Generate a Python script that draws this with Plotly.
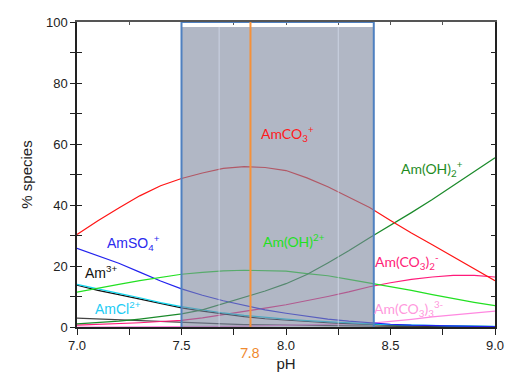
import plotly.graph_objects as go

ph = [7.0, 7.1, 7.2, 7.3, 7.4, 7.5, 7.6, 7.7, 7.8, 7.9, 8.0,
      8.1, 8.2, 8.3, 8.4, 8.5, 8.6, 8.7, 8.8, 8.9, 9.0]

amco3 = [30.3, 34.8, 39.0, 43.0, 46.3, 48.7, 50.5, 52.0, 52.6, 52.3, 51.3,
         48.9, 46.0, 42.5, 39.2, 34.9, 30.8, 27.0, 23.1, 19.0, 15.2]
amoh2_p = [1.0, 1.4, 1.9, 2.6, 3.4, 4.3, 5.6, 7.6, 9.6, 11.8, 14.2,
           17.2, 21.0, 25.0, 29.3, 33.3, 37.5, 41.8, 46.4, 51.0, 55.5]
amoh_2p = [11.4, 12.8, 14.0, 15.2, 16.3, 17.3, 17.9, 18.4, 18.6, 18.5, 18.3,
           17.5, 16.8, 15.6, 14.4, 13.3, 12.0, 10.6, 9.3, 8.1, 7.0]
amso4 = [25.8, 23.3, 20.9, 18.0, 15.1, 12.5, 10.4, 8.6, 7.0, 5.6, 4.5,
         3.5, 2.6, 1.9, 1.3, 0.9, 0.6, 0.4, 0.3, 0.2, 0.15]
amcl = [14.0, 12.4, 11.0, 9.6, 8.0, 6.7, 5.6, 4.6, 3.8, 3.1, 2.6,
        2.1, 1.7, 1.3, 1.0, 0.8, 0.6, 0.5, 0.4, 0.3, 0.25]
am3 = [13.7, 12.0, 10.6, 9.2, 7.6, 6.3, 5.2, 4.2, 3.4, 2.7, 2.2,
       1.7, 1.4, 1.1, 0.8, 0.6, 0.5, 0.4, 0.3, 0.2, 0.15]
other = [2.9, 2.6, 2.3, 2.0, 1.7, 1.5, 1.2, 1.0, 0.8, 0.7, 0.55,
         0.45, 0.35, 0.3, 0.25, 0.2, 0.15, 0.12, 0.1, 0.1, 0.1]
amco3_2 = [0.6, 0.8, 1.1, 1.4, 1.8, 2.2, 3.0, 4.0, 5.0, 6.2, 7.3,
           8.6, 10.0, 11.5, 13.2, 14.5, 15.6, 16.4, 16.9, 16.9, 16.4]
amco3_3 = [0.0, 0.0, 0.02, 0.04, 0.07, 0.1, 0.15, 0.22, 0.3, 0.4, 0.5,
           0.65, 0.8, 1.0, 1.2, 1.8, 2.5, 3.3, 4.0, 4.6, 5.2]

x_ticks = [7.0, 7.5, 8.0, 8.5, 9.0]
y_ticks = [0, 20, 40, 60, 80, 100]
marker_ph = 7.83
band = [7.5, 8.42]

series = [
    (other, "#444444"),
    (amco3_3, "#ff88e0"),
    (amco3_2, "#ff1a7a"),
    (am3, "#111111"),
    (amcl, "#11d8f0"),
    (amso4, "#2222ee"),
    (amoh_2p, "#22e022"),
    (amoh2_p, "#1a8a2a"),
    (amco3, "#ff1414"),
]

fig = go.Figure()
for ys, c in series:
    fig.add_trace(go.Scatter(x=ph, y=ys, mode="lines",
                             line=dict(color=c, width=1.2),
                             showlegend=False, hoverinfo="skip"))

# mirror axes (top/right, ticks inside) and inner tick halves on left
fig.add_trace(go.Scatter(x=[7, 9], y=[0, 0], xaxis="x2", yaxis="y2",
                         mode="lines", line=dict(width=0), showlegend=False,
                         hoverinfo="skip"))
fig.add_trace(go.Scatter(x=[7, 9], y=[0, 0], xaxis="x", yaxis="y3",
                         mode="lines", line=dict(width=0), showlegend=False,
                         hoverinfo="skip"))

# shaded band
fig.add_shape(type="rect", xref="x", yref="y", x0=band[0], x1=band[1],
              y0=-1, y1=98.4, fillcolor="rgba(125,135,158,0.6)",
              line=dict(width=0), layer="above")
for xv in [7.68, 8.25]:
    fig.add_shape(type="line", xref="x", yref="y", x0=xv, x1=xv, y0=-1, y1=98.4,
                  line=dict(color="rgba(215,222,240,0.7)", width=1), layer="above")
fig.add_shape(type="rect", xref="x", yref="y", x0=band[0], x1=band[1],
              y0=-0.5, y1=100, fillcolor="rgba(0,0,0,0)",
              line=dict(color="#4f80c0", width=2), layer="above")
fig.add_shape(type="line", xref="x", yref="y", x0=marker_ph, x1=marker_ph,
              y0=0, y1=100, line=dict(color="#f5913a", width=2), layer="above")

calibri = "Lato, Carlito, sans-serif"
arial = "Liberation Sans, Arial, sans-serif"
labels = [
    ("AmCO<sub>3</sub><sup>+</sup>", 8.005, 63.6, "#ff1a1a", calibri),
    ("Am(OH)<sub>2</sub><sup>+</sup>", 8.70, 52.1, "#1e8c1e", calibri),
    ("AmSO<sub>4</sub><sup>+</sup>", 7.27, 27.5, "#2a2aee", arial),
    ("Am<sup>3+</sup>", 7.115, 18.0, "#111111", arial),
    ("AmCl<sup>2+</sup>", 7.196, 6.2, "#22ccf5", arial),
    ("Am(OH)<sup>2+</sup>", 8.04, 28.2, "#22e022", calibri),
    ("Am(CO<sub>3</sub>)<sub>2</sub><sup>-</sup>", 8.58, 21.6, "#ff2277", calibri),
    ("Am(CO<sub>3</sub>)<sub>3</sub><sup>3-</sup>", 8.59, 6.2, "#ff99dd", calibri),
]
for t, xx, yy, c, f in labels:
    fig.add_annotation(text=t, x=xx, y=yy, xref="x", yref="y", showarrow=False,
                       font=dict(color=c, size=14, family=f))
fig.add_annotation(text=str(7.8), x=marker_ph, y=-0.085, xref="x", yref="paper",
                   showarrow=False, yanchor="middle",
                   font=dict(color="#f08a30", size=14, family=calibri))

fig.update_layout(
    width=506, height=374,
    margin=dict(l=77, r=11, t=22, b=47, autoexpand=False),
    plot_bgcolor="white", paper_bgcolor="white",
    font=dict(family=arial, size=13, color="#222222"),
    xaxis=dict(range=[7, 9], tickvals=x_ticks, ticktext=[f"{v:.1f}" for v in x_ticks],
               ticks="outside", ticklen=6, tickcolor="#222", showline=True,
               linecolor="#222", linewidth=1.5, showgrid=False, zeroline=False,
               automargin=False,
               minor=dict(dtick=0.25, ticks="outside", ticklen=6, tickcolor="#222"),
               title=dict(text="pH", standoff=6, font=dict(size=15))),
    yaxis=dict(range=[0, 100], tickvals=y_ticks, ticks="outside", ticklen=5,
               tickcolor="#222", showline=True, linecolor="#222", linewidth=1.5,
               showgrid=False, zeroline=False, automargin=False,
               minor=dict(dtick=10, ticks="outside", ticklen=5, tickcolor="#222"),
               title=dict(text="% species", standoff=10, font=dict(size=15))),
    yaxis3=dict(range=[0, 100], overlaying="y", side="left", showticklabels=False,
                ticks="inside", ticklen=5, tickcolor="#222", dtick=10,
                showline=False, showgrid=False, zeroline=False, automargin=False),
    xaxis2=dict(range=[7, 9], overlaying="x", side="top", showticklabels=False,
                ticks="inside", ticklen=3, tickcolor="#555", dtick=0.25,
                showline=True, linecolor="#555", linewidth=1.5, showgrid=False,
                zeroline=False, automargin=False),
    yaxis2=dict(range=[0, 100], overlaying="y", side="right", showticklabels=False,
                ticks="inside", ticklen=4, tickcolor="#222", dtick=10,
                showline=True, linecolor="#222", linewidth=1.5, showgrid=False,
                zeroline=False, automargin=False),
)

fig.write_html("out.html", config={"displayModeBar": False},
               post_script="document.body.style.margin='0';document.body.style.padding='0';")
